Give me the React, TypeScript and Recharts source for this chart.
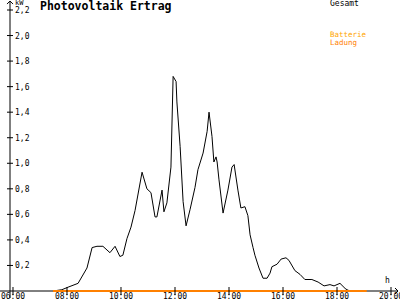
import React from 'react';
import { LineChart, Line, XAxis, YAxis, ReferenceLine } from 'recharts';

// time of day in hours, Gesamt in kW
const times = [
  7.48, 7.81, 8.04, 8.41, 8.74, 8.93, 9.11, 9.33, 9.59, 9.78, 9.96, 10.07, 10.22, 10.37, 10.52,
  10.78, 10.96, 11.11, 11.26, 11.33, 11.52, 11.59, 11.7, 11.85, 11.93, 12.04, 12.07, 12.19, 12.3,
  12.41, 12.56, 12.74, 12.85, 13.04, 13.19, 13.26, 13.37, 13.44, 13.52, 13.56, 13.63, 13.78, 13.96,
  14.11, 14.19, 14.33, 14.44, 14.59, 14.7, 14.78, 14.89, 14.96, 15.11, 15.26, 15.41, 15.52, 15.59,
  15.78, 15.93, 16.11, 16.22, 16.44, 16.63, 16.81, 17.07, 17.3, 17.52, 17.74, 17.89, 18.11, 18.3,
  18.37, 18.48,
];
const gesamt = [
  0, 0.01, 0.03, 0.06, 0.18, 0.34, 0.35, 0.35, 0.3, 0.35, 0.27, 0.28, 0.41, 0.5, 0.63,
  0.93, 0.8, 0.77, 0.58, 0.58, 0.79, 0.62, 0.69, 0.97, 1.68, 1.64, 1.48, 1.13, 0.7,
  0.51, 0.64, 0.81, 0.95, 1.08, 1.25, 1.4, 1.21, 1.01, 1.05, 1.01, 0.87, 0.61, 0.79,
  0.97, 0.99, 0.79, 0.65, 0.66, 0.59, 0.44, 0.34, 0.28, 0.18, 0.1, 0.1, 0.14, 0.19,
  0.21, 0.25, 0.26, 0.24, 0.16, 0.13, 0.09, 0.09, 0.07, 0.04, 0.05, 0.04, 0.06, 0.02,
  0.01, 0,
];
const ladungTimes = [7.48, 19.1];
const ladung = [0, 0];

const xTicks = [6, 8, 10, 12, 14, 16, 18, 20];
const yTicks = [0.2, 0.4, 0.6, 0.8, 1.0, 1.2, 1.4, 1.6, 1.8, 2.0, 2.2];

const gesamtData = times.map((t, i) => ({ t, v: gesamt[i] }));
const ladungData = ladungTimes.map((t, i) => ({ t, v: ladung[i] }));

const FONT = '"DejaVu Sans Mono", monospace';
const ORANGE = '#ff8000';

const fmtHour = (h: number) => (h < 10 ? '0' : '') + h + ':00';
const fmtKw = (v: number) => v.toFixed(1).replace('.', ',');

const YTick = (props: any) => {
  const { x, y, payload } = props;
  return (
    <g>
      <line x1={x - 3} y1={y} x2={x + 3} y2={y} stroke="#000" />
      <text x={x + 5} y={y + 3} fontSize={8} fontFamily={FONT} fill="#000">
        {fmtKw(payload.value)}
      </text>
    </g>
  );
};

const XTick = (props: any) => {
  const { x, y, payload } = props;
  return (
    <g>
      <line x1={x} y1={y - 4} x2={x} y2={y + 4} stroke="#000" />
      <text x={x} y={y + 8} fontSize={8} fontFamily={FONT} fill="#000" textAnchor="middle">
        {fmtHour(payload.value)}
      </text>
    </g>
  );
};

const UpArrow = (props: any) => {
  const { x1, y1, x2, y2 } = props;
  return (
    <g>
      <line x1={x1} y1={y1} x2={x2} y2={y2} stroke="#000" />
      <polyline points={`${x2 - 3},${y2 + 3} ${x2},${y2} ${x2 + 3},${y2 + 3}`} fill="none" stroke="#000" />
    </g>
  );
};

const RightArrow = (props: any) => {
  const { x1, y1, x2, y2 } = props;
  return (
    <g>
      <line x1={x1} y1={y1} x2={x2} y2={y2} stroke="#000" />
      <polyline points={`${x2 - 3},${y2 - 3} ${x2},${y2} ${x2 - 3},${y2 + 3}`} fill="none" stroke="#000" />
    </g>
  );
};

const txt = (extra: React.CSSProperties): React.CSSProperties => ({
  position: 'absolute',
  fontFamily: FONT,
  whiteSpace: 'nowrap',
  ...extra,
});

export default function App() {
  return (
    <div style={{ position: 'absolute', left: 0, top: 0, width: 400, height: 300, background: '#fff', overflow: 'hidden' }}>
      <LineChart width={400} height={300} margin={{ top: 10, right: 2, bottom: 0, left: 0 }}>
        <XAxis
          dataKey="t"
          type="number"
          domain={[5.889, 20.259]}
          allowDataOverflow
          ticks={xTicks}
          interval={0}
          height={9}
          axisLine={false}
          tickLine={false}
          tickSize={0}
          tickMargin={0}
          tick={(p: any) => <XTick {...p} />}
        />
        <YAxis
          type="number"
          domain={[0, 2.2]}
          ticks={yTicks}
          interval={0}
          width={10}
          axisLine={false}
          tickLine={false}
          tickSize={0}
          tickMargin={0}
          tick={(p: any) => <YTick {...p} />}
        />
        <ReferenceLine
          segment={[{ x: 5.889, y: -0.055 }, { x: 5.889, y: 2.27 }]}
          ifOverflow="visible"
          shape={UpArrow}
        />
        <ReferenceLine
          segment={[{ x: 5.52, y: 0 }, { x: 20.259, y: 0 }]}
          ifOverflow="visible"
          shape={RightArrow}
        />
        <Line data={gesamtData} dataKey="v" type="linear" stroke="#000" strokeWidth={1} dot={false} isAnimationActive={false} />
        <Line data={ladungData} dataKey="v" type="linear" stroke={ORANGE} strokeWidth={2} dot={false} isAnimationActive={false} />
      </LineChart>
      <div style={txt({ left: 40, top: 1, fontSize: 11.5, lineHeight: '11.5px', fontWeight: 'bold' })}>Photovoltaik Ertrag</div>
      <div style={txt({ left: 15, top: 0, fontSize: 7, lineHeight: '7px' })}>kW</div>
      <div style={txt({ left: 385, top: 277, fontSize: 8, lineHeight: '8px' })}>h</div>
      <div style={txt({ left: 330, top: 0, fontSize: 8, lineHeight: '8px' })}>Gesamt</div>
      <div style={txt({ left: 330, top: 31, fontSize: 7.5, lineHeight: '7px', color: '#ffa500' })}>Batterie</div>
      <div style={txt({ left: 330, top: 39, fontSize: 7.5, lineHeight: '7px', color: ORANGE })}>Ladung</div>
    </div>
  );
}
